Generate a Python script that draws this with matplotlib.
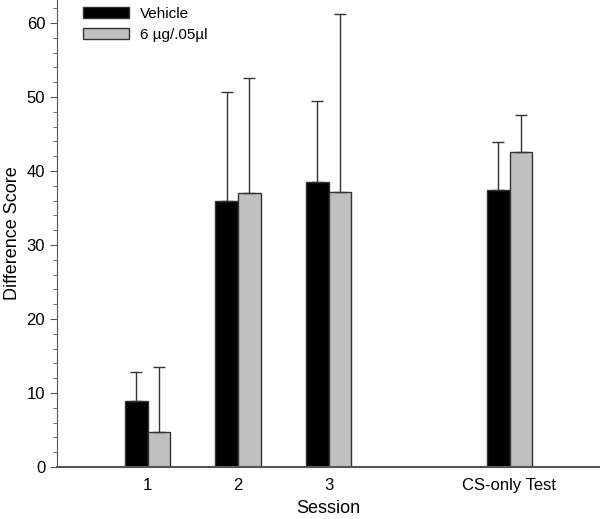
import matplotlib
matplotlib.use('Agg')
import matplotlib.pyplot as plt
from matplotlib.ticker import MultipleLocator

plt.rcParams['font.family'] = ['Liberation Sans', 'DejaVu Sans']

positions = [1, 2, 3, 5]
labels = ['1', '2', '3', 'CS-only Test']
vehicle = [8.9, 36.0, 38.5, 37.5]
vehicle_err = [4.0, 14.7, 10.9, 6.4]
drug = [4.7, 37.0, 37.2, 42.6]
drug_err = [8.8, 15.5, 24.0, 5.0]

w = 0.25

fig = plt.figure(figsize=(6, 5.19), dpi=100)
ax = fig.add_axes([0.095, 0.1, 0.905, 0.9])

xv = [p - w / 2 for p in positions]
xd = [p + w / 2 for p in positions]
ax.bar(xv, vehicle, w, color='black', edgecolor='#333333', linewidth=1,
       yerr=[[0] * 4, vehicle_err], error_kw=dict(ecolor='#333333', elinewidth=1, capsize=4, capthick=1),
       label='Vehicle')
ax.bar(xd, drug, w, color='#c0c0c0', edgecolor='#333333', linewidth=1,
       yerr=[[0] * 4, drug_err], error_kw=dict(ecolor='#333333', elinewidth=1, capsize=4, capthick=1),
       label='6 µg/.05µl')

ax.set_xlim(0, 6)
ax.set_ylim(0, 63.1)
ax.set_xticks(positions)
ax.set_xticklabels(labels, fontsize=12)
ax.tick_params(axis='x', length=0, pad=8)
ax.yaxis.set_major_locator(MultipleLocator(10))
ax.yaxis.set_minor_locator(MultipleLocator(2))
ax.tick_params(axis='y', which='major', length=5, labelsize=12, color='#555555')
ax.tick_params(axis='y', which='minor', length=3, color='#555555')
ax.spines['top'].set_visible(False)
ax.spines['right'].set_visible(False)
ax.spines['left'].set_color('#555555')
ax.spines['bottom'].set_color('#555555')
ax.spines['bottom'].set_linewidth(1.5)

ax.set_xlabel('Session', fontsize=13, labelpad=5)
ax.set_ylabel('Difference Score', fontsize=13, labelpad=4)

ax.legend(loc='upper left', bbox_to_anchor=(0.023, 1.015), frameon=False, fontsize=11,
          handlelength=3.0, handleheight=0.8, handletextpad=0.7, labelspacing=0.45)

fig.savefig('out.png', dpi=100)
